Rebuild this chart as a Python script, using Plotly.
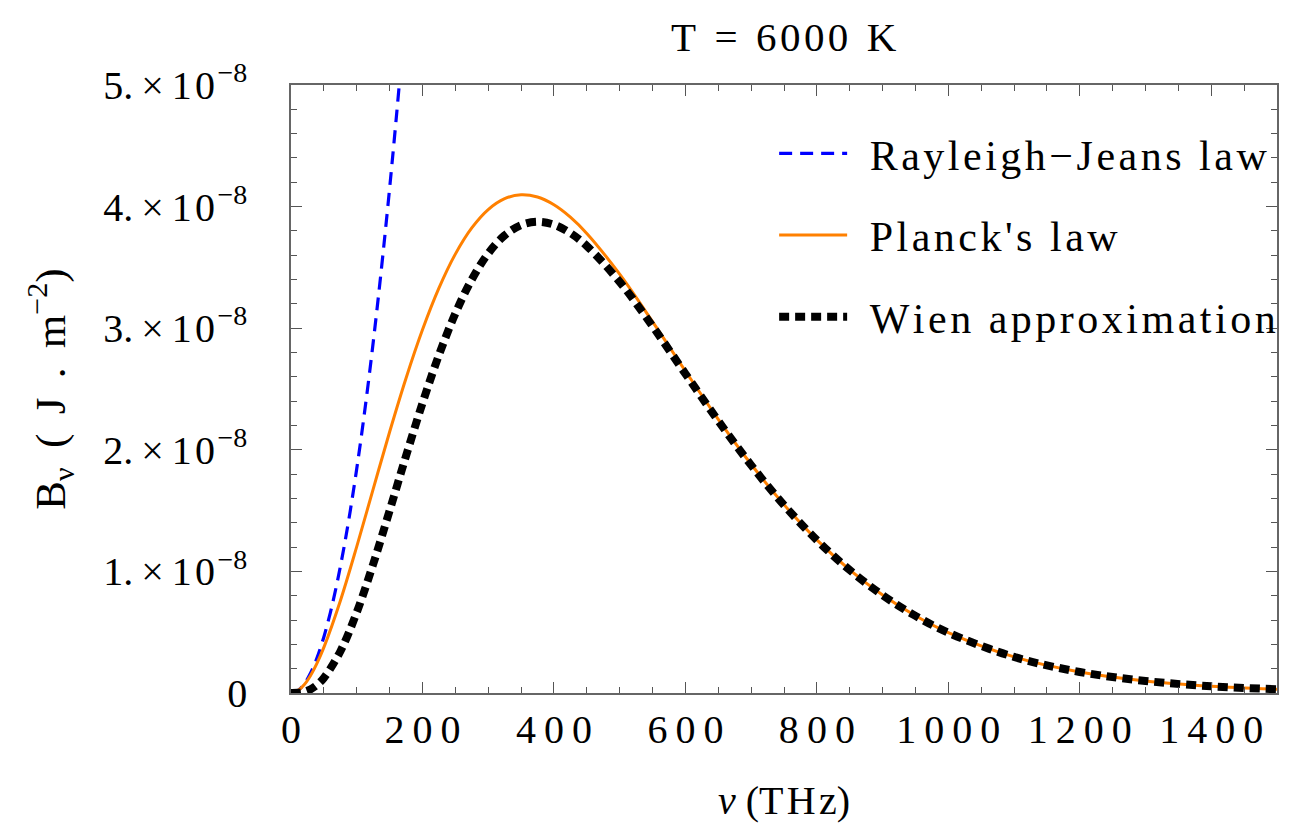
import plotly.graph_objects as go

# Frequency (THz) and spectral radiance values (in units of 1e-8 J m^-2)
nu = [0, 10, 20, 30, 40, 50, 75, 100, 125, 150, 175, 200, 225, 250, 275, 300, 325, 350,
      375, 400, 425, 450, 500, 550, 600, 650, 700, 750, 800, 850, 900, 950, 1000, 1100,
      1200, 1300, 1400, 1500]
planck = [0, 0.0177, 0.0680, 0.1468, 0.2503, 0.3749, 0.7570, 1.2038, 1.6770, 2.1462,
          2.5884, 2.9864, 3.3289, 3.6091, 3.8247, 3.9757, 4.0652, 4.0975, 4.0785, 4.0150,
          3.9131, 3.7795, 3.4442, 3.0543, 2.6475, 2.2505, 1.8809, 1.5491, 1.2593, 1.0121,
          0.8051, 0.6347, 0.4962, 0.2968, 0.1732, 0.0990, 0.0555, 0.0307]
wien = [0, 0.00136, 0.01005, 0.03132, 0.06853, 0.1236, 0.3415, 0.6627, 1.0598, 1.4995,
        1.9497, 2.3830, 2.7782, 3.1203, 3.4006, 3.6148, 3.7629, 3.8481, 3.8752, 3.8511,
        3.7823, 3.6761, 3.3810, 3.0168, 2.6257, 2.2381, 1.8740, 1.5452, 1.2572, 1.0110,
        0.8045, 0.6344, 0.4960, 0.2967, 0.1731, 0.0989, 0.0555, 0.0307]
nu_rj = [0, 10, 20, 30, 40, 50, 60, 70, 80, 90, 100, 110, 120, 130, 140, 150, 160, 170]
rayleigh = [0, 0.0184, 0.0738, 0.1659, 0.2950, 0.4610, 0.6638, 0.9035, 1.1800, 1.4935,
            1.8438, 2.2310, 2.6551, 3.1160, 3.6139, 4.1486, 4.7201, 5.3286]

x_ticks = [0, 200, 400, 600, 800, 1000, 1200, 1400]
x_labels = ["0", "200", "400", "600", "800", "1000", "1200", "1400"]
y_ticks = [0, 1, 2, 3, 4, 5]
y_mantissas = ["0", "1.", "2.", "3.", "4.", "5."]
names = ["Rayleigh−Jeans law", "Planck's law", "Wien approximation"]

HS = "\u200a"   # hair space
TS = "\u2009"   # thin space

FONT = "Liberation Serif"
FS = 40

x_ticktext = [TS.join(t) for t in x_labels]
y_ticktext = ["0"] + [m + TS + "×" + TS + "1" + HS + "0<sup>" + HS + "−8</sup>" for m in y_mantissas[1:]]
leg_names = [HS * 5 + HS.join(n) for n in names]

fig = go.Figure()
fig.add_trace(go.Scatter(x=nu_rj, y=rayleigh, mode="lines", name=leg_names[0],
                         legendgroup="a", line=dict(color="#0000FF", width=3.2, dash="13px,8px", shape="spline")))
fig.add_trace(go.Scatter(x=nu, y=planck, mode="lines", name=leg_names[1],
                         legendgroup="b", line=dict(color="#FF8000", width=3, shape="spline")))
fig.add_trace(go.Scatter(x=nu, y=wien, mode="lines", name=leg_names[2],
                         legendgroup="c", line=dict(color="black", width=8, dash="10px,6px", shape="spline")))

axis_common = dict(showline=True, linecolor="#666666", linewidth=1.5, mirror="ticks",
                   ticks="inside", ticklen=11, tickwidth=1.2, tickcolor="#555555",
                   showgrid=False, zeroline=False, automargin=False,
                   tickfont=dict(family=FONT, size=FS, color="black"))

fig.update_xaxes(range=[0, 1500], tickvals=x_ticks, ticktext=x_ticktext,
                 minor=dict(dtick=50, tick0=0, ticks="inside", ticklen=6, tickcolor="#555555", showgrid=False),
                 **axis_common)
fig.update_yaxes(range=[0, 5], tickvals=y_ticks, ticktext=y_ticktext, ticklabelstandoff=34,
                 minor=dict(dtick=0.2, tick0=0, ticks="inside", ticklen=6, tickcolor="#555555", showgrid=False),
                 title=dict(text="B<sub>ν</sub>" + TS + " (" + TS + " J" + TS + " ." + TS + " m<sup>−2</sup>)",
                            font=dict(family=FONT, size=43, color="black"), standoff=24),
                 **axis_common)

# x-axis title and chart title placed as paper-anchored annotations
fig.add_annotation(text="<i>ν</i>" + " (" + HS.join("THz") + ")", xref="paper", yref="paper",
                   x=0.5, y=-0.177, xanchor="center", yanchor="middle", showarrow=False,
                   font=dict(family=FONT, size=FS, color="black"))
fig.add_annotation(text="T" + TS + " = " + TS + HS.join("6000") + TS + " K", xref="paper", yref="paper",
                   x=0.5, y=1.079, xanchor="center", yanchor="middle", showarrow=False,
                   font=dict(family=FONT, size=41, color="black"))

# the page body adds an 8px offset; compensate in size and margins
fig.update_layout(
    width=1294, height=817,
    margin=dict(l=283, r=25, t=77, b=132),
    paper_bgcolor="white", plot_bgcolor="white",
    legend=dict(x=0.49, y=0.943, xanchor="left", yanchor="top", bgcolor="rgba(0,0,0,0)",
                font=dict(family=FONT, size=42, color="black"), itemwidth=68, tracegroupgap=24),
    showlegend=True,
)

fig.write_html("out.html")
